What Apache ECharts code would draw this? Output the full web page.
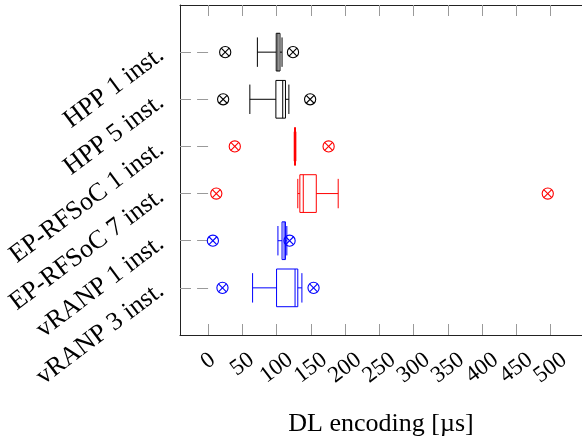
<!DOCTYPE html>
<html>
<head>
<meta charset="utf-8">
<script src="https://cdn.jsdelivr.net/npm/echarts@6/dist/echarts.min.js"></script>
<style>
html,body{margin:0;padding:0;background:#fff;}
#chart{width:582px;height:442px;}
</style>
</head>
<body>
<div id="chart"></div>
<script>
// Data (values in microseconds)
const categories = ['HPP 1 inst.', 'HPP 5 inst.', 'EP-RFSoC 1 inst.', 'EP-RFSoC 7 inst.', 'vRANP 1 inst.', 'vRANP 3 inst.'];
const lowWhisker  = [72, 61, 125.8, 131, 102, 65];
const q1Values    = [99.5, 99, 126.3, 134, 108, 100];
const medianValues= [102, 109, 127, 139, 111, 127];
const q3Values    = [105, 113, 127.6, 158, 113, 131];
const highWhisker = [108, 118, 128.2, 190, 115, 137];
const outlierLow  = [25, 22, 39, 12, 7, 21];
const outlierHigh = [124, 149, 176, 496, 119, 154];
const seriesColors = ['#000000', '#000000', '#ff0000', '#ff0000', '#0000ff', '#0000ff'];
const xTicks = [0, 50, 100, 150, 200, 250, 300, 350, 400, 450, 500];
const X_MIN = -41, X_MAX = 546;

const axisCats = [''].concat(categories, ['']);
const rows = categories.map((c, i) => [i + 1, lowWhisker[i], q1Values[i], medianValues[i], q3Values[i], highWhisker[i], outlierLow[i], outlierHigh[i]]);

const FONT = 'Liberation Serif';
const X_FS = 23;
const ROT = 37;

function renderItem(params, api) {
  const cy = api.value(0);
  const color = seriesColors[params.dataIndex];
  const p = k => api.coord([api.value(k), cy]);
  const pl = p(1), pq1 = p(2), pm = p(3), pq3 = p(4), ph = p(5), po1 = p(6), po2 = p(7);
  const yC = pl[1];
  const band = api.size([0, 1])[1];
  const boxH = band * 0.8;
  const capH = boxH * 0.78;
  const line = (x1, y1, x2, y2, w) => ({type: 'line', shape: {x1, y1, x2, y2}, style: {stroke: color, lineWidth: w || 1}});
  const children = [
    {type: 'rect', shape: {x: pq1[0], y: yC - boxH / 2, width: Math.max(pq3[0] - pq1[0], 0.5), height: boxH}, style: {fill: 'none', stroke: color, lineWidth: 1}},
    line(pm[0], yC - boxH / 2, pm[0], yC + boxH / 2),
    line(pl[0], yC, pq1[0], yC),
    line(pq3[0], yC, ph[0], yC),
    line(pl[0], yC - capH / 2, pl[0], yC + capH / 2),
    line(ph[0], yC - capH / 2, ph[0], yC + capH / 2)
  ];
  const r = 5.6, d = r * 0.7071;
  [po1, po2].forEach(o => {
    children.push({type: 'circle', shape: {cx: o[0], cy: yC, r: r}, style: {fill: 'none', stroke: color, lineWidth: 1.1}});
    children.push(line(o[0] - d, yC - d, o[0] + d, yC + d, 1.1));
    children.push(line(o[0] - d, yC + d, o[0] + d, yC - d, 1.1));
  });
  return {type: 'group', children};
}

// rotated tick labels: keep the top of each label at the same height, centred on the tick
const rad = ROT * Math.PI / 180, sn = Math.sin(rad), cs = Math.cos(rad);
const padFor = n => { const dw = (n - 1) * 0.5 * X_FS; return [dw * sn * cs, dw * sn * sn, 0, 0]; };
const richFor = n => ({fontFamily: FONT, fontSize: X_FS, lineHeight: 8, color: '#000', padding: padFor(n)});
// an empty placeholder label at the axis end absorbs ECharts' end-label overlap check
const labelValues = xTicks.concat([X_MAX]);

const chart = echarts.init(document.getElementById('chart'), null, {renderer: 'canvas'});
const tickStyle = {show: true, inside: true, length: 11, lineStyle: {color: '#9a9a9a', width: 1}};
chart.setOption({
  animation: false,
  backgroundColor: '#fff',
  grid: {left: 180, top: 5, width: 404, height: 333, containLabel: false},
  xAxis: [
    {
      type: 'value', position: 'bottom', min: X_MIN, max: X_MAX,
      axisLine: {show: true, onZero: false, lineStyle: {color: '#222', width: 1}},
      axisTick: Object.assign({customValues: labelValues}, tickStyle),
      axisLabel: {
        customValues: labelValues, rotate: ROT, margin: 26, align: 'center', verticalAlign: 'middle',
        showMinLabel: true, showMaxLabel: false, hideOverlap: false,
        fontFamily: FONT, fontSize: X_FS, lineHeight: 8, color: '#000',
        formatter: v => { if (xTicks.indexOf(v) < 0) return ''; const s = String(v); return '{l' + s.length + '|' + s + '}'; },
        rich: {l1: richFor(1), l2: richFor(2), l3: richFor(3)}
      },
      splitLine: {show: false},
      name: 'DL encoding [µs]', nameLocation: 'middle', nameGap: 76,
      nameTextStyle: {fontFamily: FONT, fontSize: 26, color: '#000'}
    },
    {
      type: 'value', position: 'top', min: X_MIN, max: X_MAX,
      axisLine: {show: true, onZero: false, lineStyle: {color: '#222', width: 1}},
      axisTick: Object.assign({customValues: xTicks}, tickStyle),
      axisLabel: {show: false},
      splitLine: {show: false}
    }
  ],
  yAxis: [
    {
      type: 'category', data: axisCats, inverse: true, boundaryGap: false, position: 'left',
      axisLine: {show: true, onZero: false, lineStyle: {color: '#222', width: 1}},
      axisTick: Object.assign({interval: (i) => i > 0 && i < axisCats.length - 1}, tickStyle),
      axisLabel: {interval: 0, rotate: ROT, margin: 19, fontFamily: FONT, fontSize: 26, color: '#000'},
      splitLine: {show: false}
    },
    {
      type: 'category', data: axisCats, inverse: true, boundaryGap: false, position: 'right',
      axisLine: {show: false},
      axisTick: Object.assign({interval: (i) => i > 0 && i < axisCats.length - 1}, tickStyle),
      axisLabel: {show: false},
      splitLine: {show: false}
    }
  ],
  series: [{
    type: 'custom',
    renderItem: renderItem,
    data: rows,
    encode: {y: 0, x: [1, 2, 3, 4, 5, 6, 7]},
    clip: false
  }]
});
</script>
</body>
</html>
